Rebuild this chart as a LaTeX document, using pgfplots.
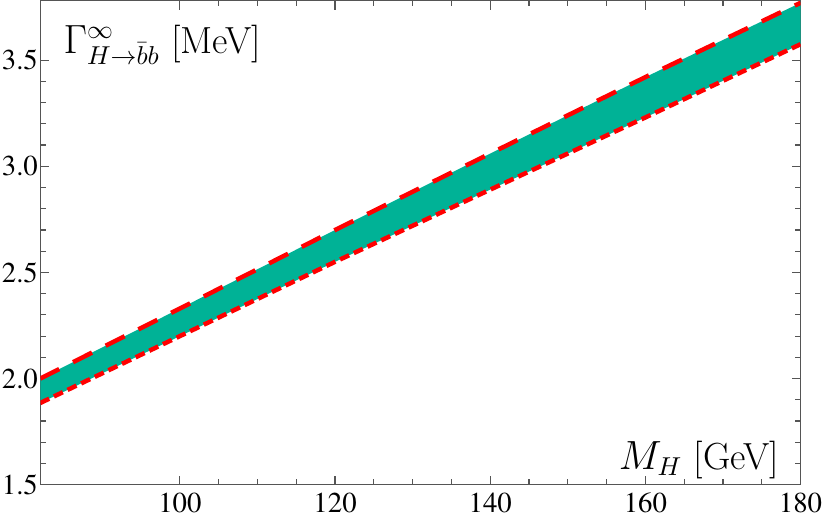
\documentclass[border=0pt]{standalone}
\usepackage{pgfplots}
\pgfplotsset{compat=1.18}
\definecolor{bandteal}{RGB}{0,178,150}
\definecolor{axgray}{RGB}{85,85,85}
\newcommand{\timesnum}{\fontencoding{OT1}\fontfamily{ptm}\fontsize{12.2}{13}\selectfont}

\begin{document}
\begin{tikzpicture}
\begin{axis}[
    scale only axis,
    width=322pt, height=205pt,
    xmin=82, xmax=180, ymin=1.5, ymax=3.78,
    xtick={100,120,...,180},
    minor x tick num=3,
    ytick={1.5,2.0,...,3.5},
    minor y tick num=4,
    tick align=inside,
    major tick length=3.8pt,
    minor tick length=2.4pt,
    axis line style={axgray, line width=0.6pt},
    every tick/.style={axgray, line width=0.5pt},
    tick label style={font=\timesnum},
    /pgf/number format/assume math mode=true,
    yticklabel style={inner xsep=0.8pt, /pgf/number format/.cd, fixed, fixed zerofill, precision=1},
    clip=true,
]
% band between the two curves
\addplot[draw=none, fill=bandteal] coordinates {
    (82,2.00) (100,2.33) (120,2.70) (140,3.06) (160,3.42) (180,3.77)
    (180,3.575) (160,3.23) (140,2.89) (120,2.55) (100,2.20) (82,1.885)
} -- cycle;
% upper edge
\addplot[red, line width=1.9pt, dash pattern=on 9pt off 6.5pt] coordinates {
    (82,2.00) (100,2.33) (120,2.70) (140,3.06) (160,3.42) (180,3.77)
};
% lower edge
\addplot[red, line width=1.9pt, dash pattern=on 4.2pt off 2.2pt] coordinates {
    (82,1.885) (100,2.20) (120,2.55) (140,2.89) (160,3.23) (180,3.575)
};
\node[anchor=north west, inner sep=1pt, font=\fontsize{16}{17}\selectfont] at (rel axis cs:0.027,0.955)
    {$\Gamma^{\infty}_{H\to\bar{b}b}$\ [MeV]};
\node[anchor=south east, inner sep=1pt, font=\fontsize{16}{17}\selectfont] at (rel axis cs:0.975,0.006)
    {$M_H$\ [GeV]};
\end{axis}
\end{tikzpicture}
\end{document}
